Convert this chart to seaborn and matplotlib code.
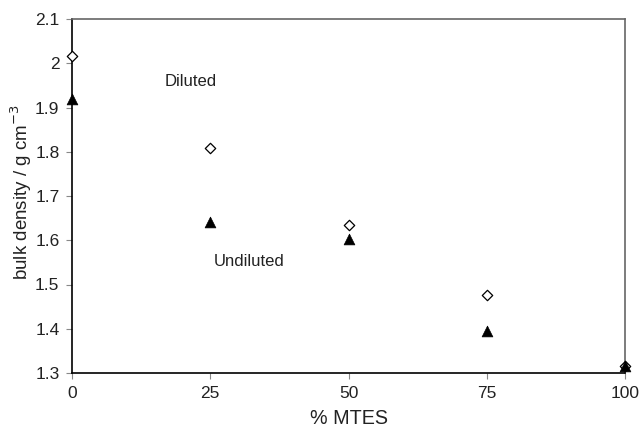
import matplotlib
matplotlib.use("Agg")
import matplotlib.pyplot as plt
import seaborn as sns
import pandas as pd

mtes = [0, 25, 50, 75, 100]
diluted = [2.016, 1.808, 1.635, 1.477, 1.316]
undiluted = [1.919, 1.641, 1.602, 1.396, 1.315]

sns.set_style("white")
plt.rcParams['font.family'] = ['Liberation Sans', 'DejaVu Sans']

df = pd.DataFrame({"mtes": mtes * 2,
                   "density": diluted + undiluted,
                   "series": ["Diluted"] * 5 + ["Undiluted"] * 5})

fig = plt.figure(figsize=(6.4, 4.28), dpi=100)
ax = fig.add_axes([72/640, 1 - 373/428, (625-72)/640, (373-19)/428])

sns.scatterplot(data=df[df.series == "Diluted"], x="mtes", y="density", marker="D",
                facecolor="white", edgecolor="black", s=28, linewidth=0.9, ax=ax, clip_on=False, zorder=3)
sns.scatterplot(data=df[df.series == "Undiluted"], x="mtes", y="density", marker="^",
                color="black", s=60, edgecolor="black", linewidth=0.5, ax=ax, clip_on=False, zorder=4)

ax.set_xlim(0, 100)
ax.set_ylim(1.3, 2.1)
ax.set_xticks([0, 25, 50, 75, 100])
ax.set_yticks([1.3, 1.4, 1.5, 1.6, 1.7, 1.8, 1.9, 2.0, 2.1])
ax.set_yticklabels(["1.3", "1.4", "1.5", "1.6", "1.7", "1.8", "1.9", "2", "2.1"])
ax.tick_params(axis="both", direction="out", length=4, width=0.8, color="#888888",
               labelsize=12.5, labelcolor="#222222", pad=5, bottom=True, left=True)
ax.set_xlabel("% MTES", fontsize=14.2, labelpad=6, color="#222222")
ax.set_ylabel("bulk density / g cm$^{-3}$", fontsize=13.5, color="#222222")
ax.yaxis.set_label_coords((34 - 72) / 553, 0.51)
for s in ["left", "bottom"]:
    ax.spines[s].set_color("black")
    ax.spines[s].set_linewidth(1.2)
for s in ["top", "right"]:
    ax.spines[s].set_color("#666666")
    ax.spines[s].set_linewidth(1.2)

ax.text(16.8, 1.958, "Diluted", fontsize=12, ha="left", va="center", color="#222222")
ax.text(25.7, 1.551, "Undiluted", fontsize=12, ha="left", va="center", color="#222222")
if ax.get_legend():
    ax.get_legend().remove()

fig.savefig("out.png", dpi=100)
